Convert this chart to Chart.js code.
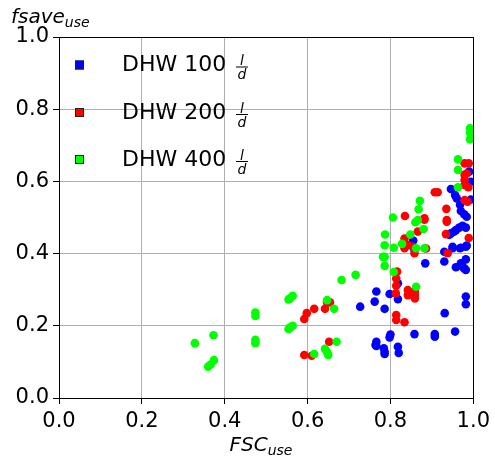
<!DOCTYPE html>
<html>
<head>
<meta charset="utf-8">
<script src="https://cdn.jsdelivr.net/npm/chart.js@4"></script>
<style>
html,body{margin:0;padding:0;background:#fff;}
#wrap{width:495px;height:459px;position:relative;}
</style>
</head>
<body>
<div id="wrap"><canvas id="c" width="495" height="459"></canvas></div>
<script>
const xTicks = [0.0, 0.2, 0.4, 0.6, 0.8, 1.0];
const yTicks = [0.0, 0.2, 0.4, 0.6, 0.8, 1.0];
const seriesNames = ["DHW 100", "DHW 200", "DHW 400"];
const seriesColors = ["#0000ff", "#ff0000", "#00ff00"];

const dhw100 = [
 [0.727,0.253],[0.766,0.295],[0.762,0.267],[0.786,0.247],[0.798,0.288],[0.818,0.274],
 [0.818,0.318],[0.884,0.373],[0.930,0.378],[0.930,0.405],[0.950,0.415],[0.968,0.415],
 [0.982,0.419],[0.982,0.384],[0.958,0.362],[0.970,0.373],[0.974,0.364],[0.982,0.355],
 [0.978,0.359],[0.982,0.281],[0.982,0.260],[0.931,0.235],[0.956,0.184],[0.907,0.177],
 [0.907,0.170],[0.858,0.177],[0.800,0.176],[0.798,0.168],[0.766,0.156],[0.766,0.144],
 [0.784,0.138],[0.786,0.128],[0.786,0.122],[0.818,0.142],[0.820,0.125],[0.855,0.436],
 [0.858,0.410],[0.946,0.579],[0.956,0.562],[0.960,0.553],[0.968,0.535],[0.970,0.518],
 [0.978,0.509],[0.984,0.502],[0.966,0.472],[0.974,0.477],[0.982,0.472],[0.958,0.465],
 [0.954,0.461],[0.946,0.456],[0.942,0.452],[0.994,0.550],[0.950,0.419],[0.970,0.416],
 [0.984,0.422],[0.990,0.627],[0.994,0.599],[0.764,0.147]
];
const dhw200 = [
 [0.647,0.265],[0.654,0.265],[0.616,0.247],[0.642,0.247],[0.598,0.235],[0.592,0.219],
 [0.652,0.156],[0.592,0.119],[0.610,0.117],[0.835,0.504],[0.882,0.498],[0.882,0.494],
 [0.866,0.461],[0.834,0.442],[0.842,0.424],[0.854,0.419],[0.816,0.350],[0.814,0.331],
 [0.814,0.311],[0.813,0.290],[0.842,0.299],[0.842,0.285],[0.859,0.296],[0.859,0.285],
 [0.859,0.276],[0.814,0.230],[0.814,0.216],[0.834,0.210],[0.934,0.454],[0.938,0.401],
 [0.989,0.443],[0.914,0.570],[0.935,0.524],[0.936,0.493],[0.936,0.488],[0.979,0.650],
 [0.989,0.650],[0.984,0.622],[0.979,0.618],[0.979,0.604],[0.979,0.590],[0.988,0.584],
 [0.979,0.548],[0.986,0.544],[0.886,0.414],[0.834,0.415],[0.858,0.401],[0.907,0.570]
];
const dhw400 = [
 [0.328,0.152],[0.373,0.174],[0.360,0.087],[0.366,0.093],[0.374,0.105],[0.474,0.237],
 [0.474,0.227],[0.474,0.161],[0.474,0.152],[0.554,0.273],[0.564,0.283],[0.558,0.276],
 [0.554,0.191],[0.564,0.200],[0.558,0.196],[0.682,0.327],[0.716,0.341],[0.647,0.271],
 [0.664,0.247],[0.670,0.156],[0.642,0.136],[0.650,0.119],[0.647,0.127],[0.616,0.122],
 [0.871,0.546],[0.868,0.523],[0.806,0.500],[0.787,0.453],[0.786,0.423],[0.808,0.416],
 [0.828,0.427],[0.848,0.453],[0.860,0.487],[0.866,0.493],[0.862,0.415],[0.880,0.468],
 [0.782,0.391],[0.786,0.391],[0.786,0.366],[0.808,0.349],[0.862,0.308],[0.992,0.747],
 [0.992,0.735],[0.992,0.717],[0.963,0.661],[0.963,0.632],[0.963,0.584],[0.882,0.415]
];

const FONT = "'DejaVu Sans', sans-serif";
const toPts = arr => arr.map(p => ({x: p[0], y: p[1]}));

const overlay = {
  id: 'overlay',
  afterDraw(chart) {
    const ctx = chart.ctx;
    const a = chart.chartArea;
    ctx.save();
    ctx.strokeStyle = '#000';
    ctx.lineWidth = 1;
    ctx.strokeRect(Math.round(a.left) + 0.5, Math.round(a.top) + 0.5,
                   Math.round(a.right - a.left), Math.round(a.bottom - a.top));
    const rows = [65, 112.5, 159.5];
    seriesNames.forEach((name, i) => {
      const cy = rows[i];
      ctx.fillStyle = seriesColors[i];
      ctx.fillRect(75, cy - 4.5, 9, 9);
      ctx.strokeStyle = '#222';
      ctx.lineWidth = 1;
      ctx.strokeRect(75.5, cy - 4, 8, 8);
      ctx.fillStyle = '#000';
      ctx.font = '22px ' + FONT;
      ctx.textAlign = 'left';
      ctx.textBaseline = 'alphabetic';
      ctx.fillText(name, 122, cy + 6);
      ctx.font = 'italic 14px ' + FONT;
      ctx.textAlign = 'center';
      ctx.fillText('l', 242, cy);
      ctx.fillRect(236, cy + 1.5, 12, 1);
      ctx.fillText('d', 242, cy + 14);
    });
    ctx.fillStyle = '#000';
    ctx.textAlign = 'left';
    ctx.font = 'italic 20px ' + FONT;
    const w1 = ctx.measureText('FSC').width;
    ctx.font = 'italic 14px ' + FONT;
    const w2 = ctx.measureText('use').width;
    const x0 = 261 - (w1 + w2) / 2;
    ctx.font = 'italic 20px ' + FONT;
    ctx.fillText('FSC', x0, 451);
    ctx.font = 'italic 14px ' + FONT;
    ctx.fillText('use', x0 + w1, 455);
    ctx.font = 'italic 20px ' + FONT;
    const w3 = ctx.measureText('fsave').width;
    ctx.fillText('fsave', 11, 23);
    ctx.font = 'italic 14px ' + FONT;
    ctx.fillText('use', 11 + w3, 27);
    ctx.restore();
  }
};

new Chart(document.getElementById('c'), {
  type: 'scatter',
  data: {
    datasets: [
      {label: seriesNames[2], data: toPts(dhw400), backgroundColor: seriesColors[2], order: 0},
      {label: seriesNames[1], data: toPts(dhw200), backgroundColor: seriesColors[1], order: 1},
      {label: seriesNames[0], data: toPts(dhw100), backgroundColor: seriesColors[0], order: 2}
    ].map(d => Object.assign(d, {pointRadius: 4.3, pointBorderWidth: 0, pointHoverRadius: 4.3, borderColor: d.backgroundColor}))
  },
  options: {
    responsive: false,
    animation: false,
    events: [],
    layout: {padding: {left: 0, right: 18, top: 37, bottom: 0}},
    plugins: {legend: {display: false}, tooltip: {enabled: false}, title: {display: false}},
    scales: {
      x: {
        type: 'linear', min: 0, max: 1,
        afterBuildTicks: s => { s.ticks = xTicks.map(v => ({value: v})); },
        afterFit: s => { s.height = 61; },
        ticks: {color: '#000', font: {family: FONT, size: 21}, padding: 5, maxRotation: 0,
                callback: v => v.toFixed(1)},
        grid: {color: '#b0b0b0', lineWidth: 1, tickLength: 6, tickColor: '#000', drawTicks: true},
        border: {color: '#000', width: 1}
      },
      y: {
        type: 'linear', min: 0, max: 1,
        afterBuildTicks: s => { s.ticks = yTicks.map(v => ({value: v})); },
        afterFit: s => { s.width = 59; },
        ticks: {color: '#000', font: {family: FONT, size: 21}, padding: 4,
                callback: v => v.toFixed(1)},
        grid: {color: '#b0b0b0', lineWidth: 1, tickLength: 6, tickColor: '#000', drawTicks: true},
        border: {color: '#000', width: 1}
      }
    }
  },
  plugins: [overlay]
});
</script>
</body>
</html>
